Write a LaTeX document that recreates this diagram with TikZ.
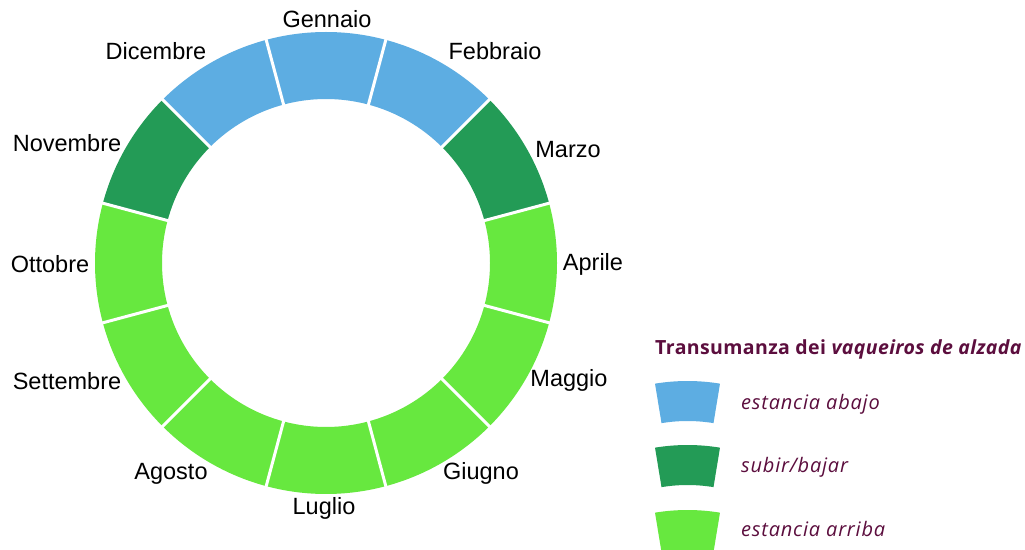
\documentclass[tikz,border=0pt]{standalone}
\usepackage{fontspec}
\setmainfont{Liberation Sans}
\newfontfamily\legfont[LetterSpace=4]{Open Sans}
\newfontfamily\legtfont[LetterSpace=2]{Open Sans}
\definecolor{abajo}{RGB}{93,173,226}
\definecolor{subir}{RGB}{35,155,86}
\definecolor{arriba}{RGB}{103,232,63}
\definecolor{legtext}{RGB}{92,14,62}
\tikzset{
  month/.style={inner sep=0pt, text height=0.72em, text depth=0pt, anchor=center, font=\fontsize{23.5}{25}\selectfont, text=black},
  sep/.style={white, line width=3pt},
  legitem/.style={anchor=west, inner sep=0pt, text=legtext, font=\legfont\itshape\fontsize{20}{22}\selectfont},
  legtitle/.style={anchor=center, inner sep=0pt, text=legtext, font=\legtfont\bfseries\fontsize{19.5}{22}\selectfont}
}
\begin{document}
\begin{tikzpicture}[x=1pt,y=1pt]
\useasboundingbox (0,0) rectangle (1025,549);
\fill[white] (0,0) rectangle (1025,549);
\coordinate (c) at (326,286);
% ring segments: month index, colour
\foreach \i/\col in {0/abajo,1/abajo,2/subir,3/arriba,4/arriba,5/arriba,6/arriba,7/arriba,8/arriba,9/arriba,10/subir,11/abajo}{
  \pgfmathsetmacro{\a}{90-30*\i}
  \pgfmathsetmacro{\s}{\a-15}
  \pgfmathsetmacro{\e}{\a+15}
  \fill[\col] ([shift={(c)}]\s:231pt) arc[start angle=\s, end angle=\e, radius=231pt]
     -- ([shift={(c)}]\e:164pt) arc[start angle=\e, end angle=\s, radius=164pt] -- cycle;
}
\foreach \i in {0,...,11}{
  \pgfmathsetmacro{\b}{75-30*\i}
  \draw[sep] ([shift={(c)}]\b:160pt) -- ([shift={(c)}]\b:236pt);
}
% month labels
\node[month] (gen) at (327,525) {Gennaio};
\node[month] (feb) at (495,493) {Febbraio};
\node[month] (mar) at (568,395) {Marzo};
\node[month] (apr) at (593,282) {Aprile};
\node[month] (mag) at (569,166) {Maggio};
\node[month] (giu) at (481,73) {Giugno};
\node[month] (lug) at (324,38) {Luglio};
\node[month] (ago) at (171,73) {Agosto};
\node[month] (set) at (67,163) {Settembre};
\node[month] (ott) at (50,280) {Ottobre};
\node[month] (nov) at (67,401) {Novembre};
\node[month] (dic) at (156,493) {Dicembre};
% legend
\node[legtitle] (title) at (838.5,200) {Transumanza dei \textit{vaqueiros de alzada}};
\foreach \cy/\col in {-32/abajo,-96/subir,-161/arriba}{
  \fill[\col] ([shift={(687.5,\cy)}]80.65:200pt) arc[start angle=80.65, end angle=99.35, radius=200pt]
    -- ([shift={(687.5,\cy)}]99.35:160pt) arc[start angle=99.35, end angle=80.65, radius=160pt] -- cycle;
}
\node[legitem] (l1) at (741,145) {estancia abajo};
\node[legitem] (l2) at (741,82) {subir/bajar};
\node[legitem] (l3) at (741,20) {estancia arriba};
\end{tikzpicture}
\end{document}
